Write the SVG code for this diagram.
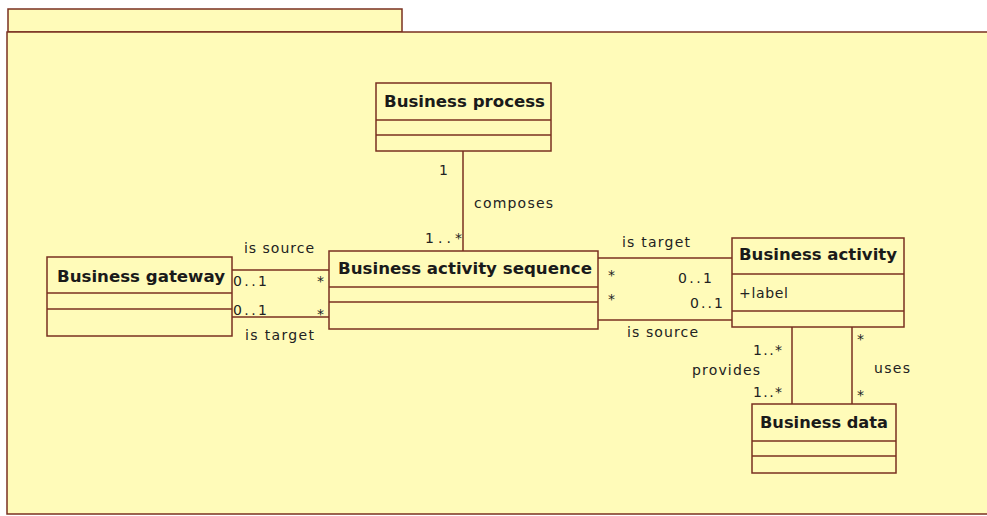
<svg xmlns="http://www.w3.org/2000/svg" width="987" height="516" viewBox="0 0 987 516">
<style>
.pk{fill:#fffbb9;stroke:#7a3020;stroke-width:1.5}
.cls{fill:#fffbb9;stroke:#7a3020;stroke-width:1.5}
.ln{fill:none;stroke:#7a3020;stroke-width:1.5}
.t{font-family:"DejaVu Sans",sans-serif;font-size:16px;font-weight:bold;fill:#1a1a1a}
.l{font-family:"DejaVu Sans",sans-serif;font-size:14px;fill:#222}
</style>
<rect width="987" height="516" fill="#ffffff"/>
<g id="package">
<rect class="pk" x="8" y="9" width="394" height="23"/>
<rect class="pk" x="7" y="32" width="990" height="482"/>
</g>
<g id="connectors">
<line class="ln" x1="463" y1="151" x2="463" y2="251"/>
<line class="ln" x1="232" y1="270" x2="329" y2="270"/>
<line class="ln" x1="232" y1="317" x2="329" y2="317"/>
<line class="ln" x1="598" y1="258" x2="732" y2="258"/>
<line class="ln" x1="598" y1="320" x2="732" y2="320"/>
<line class="ln" x1="792" y1="327" x2="792" y2="404"/>
<line class="ln" x1="852" y1="327" x2="852" y2="404"/>
<text class="l" x="439" y="175">1</text>
<text class="l" x="474" y="208" textLength="79" lengthAdjust="spacing">composes</text>
<text class="l" x="425" y="243" textLength="37" lengthAdjust="spacing">1..*</text>
<text class="l" x="244" y="253" textLength="70" lengthAdjust="spacing">is source</text>
<text class="l" x="233" y="286" textLength="34" lengthAdjust="spacing">0..1</text>
<text class="l" x="317" y="286">*</text>
<text class="l" x="233" y="315" textLength="34" lengthAdjust="spacing">0..1</text>
<text class="l" x="317" y="319">*</text>
<text class="l" x="245" y="340" textLength="69" lengthAdjust="spacing">is target</text>
<text class="l" x="622" y="247" textLength="68" lengthAdjust="spacing">is target</text>
<text class="l" x="608" y="280">*</text>
<text class="l" x="678" y="283" textLength="34" lengthAdjust="spacing">0..1</text>
<text class="l" x="608" y="304">*</text>
<text class="l" x="690" y="308" textLength="33" lengthAdjust="spacing">0..1</text>
<text class="l" x="627" y="337" textLength="71" lengthAdjust="spacing">is source</text>
<text class="l" x="753" y="355" textLength="29" lengthAdjust="spacing">1..*</text>
<text class="l" x="692" y="375" textLength="68" lengthAdjust="spacing">provides</text>
<text class="l" x="753" y="397" textLength="29" lengthAdjust="spacing">1..*</text>
<text class="l" x="857" y="344">*</text>
<text class="l" x="874" y="373" textLength="36" lengthAdjust="spacing">uses</text>
<text class="l" x="857" y="400">*</text>
</g>
<g id="business-process">
<rect class="cls" x="376" y="83" width="175" height="68"/>
<line class="ln" x1="376" y1="120" x2="551" y2="120"/>
<line class="ln" x1="376" y1="135" x2="551" y2="135"/>
<text class="t" x="384" y="107" textLength="161" lengthAdjust="spacingAndGlyphs">Business process</text>
</g>
<g id="business-gateway">
<rect class="cls" x="47" y="257" width="185" height="79"/>
<line class="ln" x1="47" y1="293" x2="232" y2="293"/>
<line class="ln" x1="47" y1="309" x2="232" y2="309"/>
<text class="t" x="57" y="282" textLength="168" lengthAdjust="spacingAndGlyphs">Business gateway</text>
</g>
<g id="business-activity-sequence">
<rect class="cls" x="329" y="251" width="269" height="78"/>
<line class="ln" x1="329" y1="287" x2="598" y2="287"/>
<line class="ln" x1="329" y1="302" x2="598" y2="302"/>
<text class="t" x="338" y="274" textLength="254" lengthAdjust="spacingAndGlyphs">Business activity sequence</text>
</g>
<g id="business-activity">
<rect class="cls" x="732" y="238" width="172" height="89"/>
<line class="ln" x1="732" y1="274" x2="904" y2="274"/>
<line class="ln" x1="732" y1="311" x2="904" y2="311"/>
<text class="t" x="739" y="260" textLength="158" lengthAdjust="spacingAndGlyphs">Business activity</text>
<text class="l" x="739" y="298" textLength="49" lengthAdjust="spacing">+label</text>
</g>
<g id="business-data">
<rect class="cls" x="752" y="404" width="144" height="69"/>
<line class="ln" x1="752" y1="441" x2="896" y2="441"/>
<line class="ln" x1="752" y1="456" x2="896" y2="456"/>
<text class="t" x="760" y="428" textLength="128" lengthAdjust="spacingAndGlyphs">Business data</text>
</g>
</svg>
